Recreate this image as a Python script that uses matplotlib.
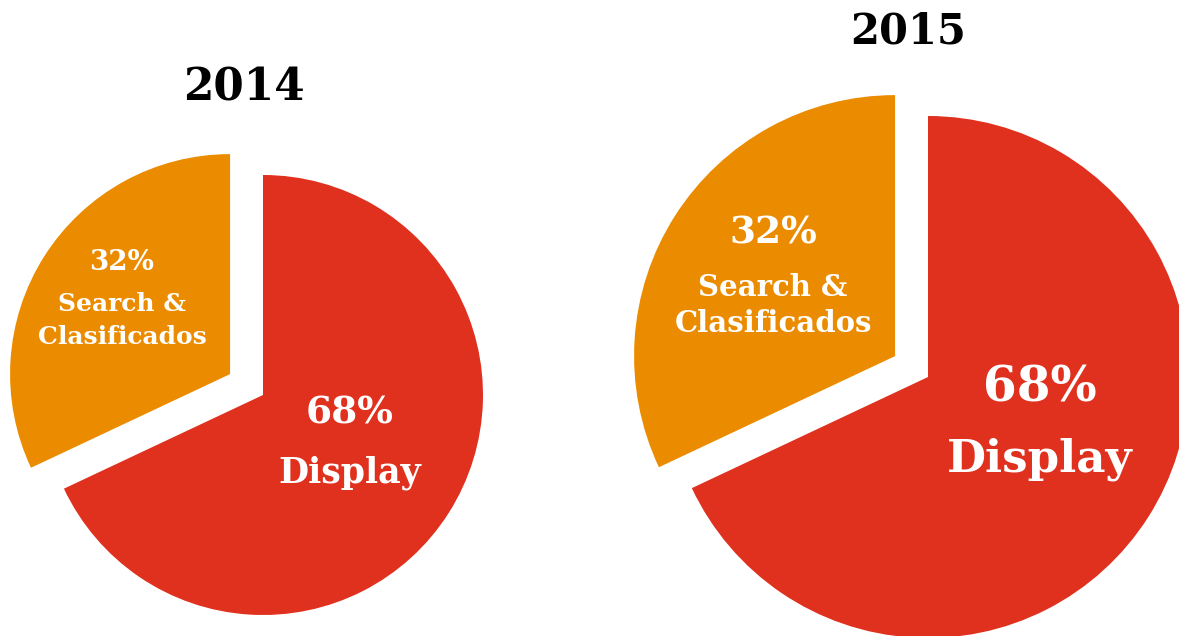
import matplotlib.pyplot as plt

years = ['2014', '2015']
labels = ['Display', 'Search &', 'Clasificados']
shares = [68, 32]
colors = ['#E0301E', '#EB8C00']

H = 636
# pixel layout of the two pies (y measured from the bottom)
centers = [(263, H - 395), (928, H - 377)]
radii = [220, 261]
offsets = [39, 39]
title_pos = [(244, H - 88), (908, H - 31)]
title_size = [31.5, 30]

# display text: x, y of "68%", y of "Display", sizes
big_x = [350, 1040]
big_y = [(413, 473), (388, 459)]
big_size = [(27, 25), (35, 32.5)]
# search text: x, y of "32%", "Search &", "Clasificados", sizes
small_x = [122, 773]
small_y = [(262, 304, 337), (233, 288, 323)]
small_size = [(20, 18), (27, 21)]

fig = plt.figure(figsize=(11.79, 6.36), dpi=100)
ax = fig.add_axes([0, 0, 1, 1])
serif = 'DejaVu Serif'

for i, year in enumerate(years):
    ax.pie(shares, colors=colors, startangle=90, counterclock=False,
           center=centers[i], radius=radii[i], explode=[0, offsets[i]],
           wedgeprops={'linewidth': 0})
    ax.text(*title_pos[i], year, ha='center', va='center', fontsize=title_size[i],
            fontweight='bold', family=serif, color='black')

    ax.text(big_x[i], H - big_y[i][0], f'{shares[0]}%', ha='center', va='center',
            fontsize=big_size[i][0], fontweight='bold', family=serif, color='white')
    ax.text(big_x[i], H - big_y[i][1], labels[0], ha='center', va='center',
            fontsize=big_size[i][1], fontweight='bold', family=serif, color='white')

    ax.text(small_x[i], H - small_y[i][0], f'{shares[1]}%', ha='center', va='center',
            fontsize=small_size[i][0], fontweight='bold', family=serif, color='white')
    for j in (1, 2):
        ax.text(small_x[i], H - small_y[i][j], labels[j], ha='center', va='center',
                fontsize=small_size[i][1], fontweight='bold', family=serif, color='white')

ax.set_xlim(0, 1179)
ax.set_ylim(0, H)
ax.set_aspect('equal')
ax.axis('off')

fig.savefig('out.png', dpi=100)
